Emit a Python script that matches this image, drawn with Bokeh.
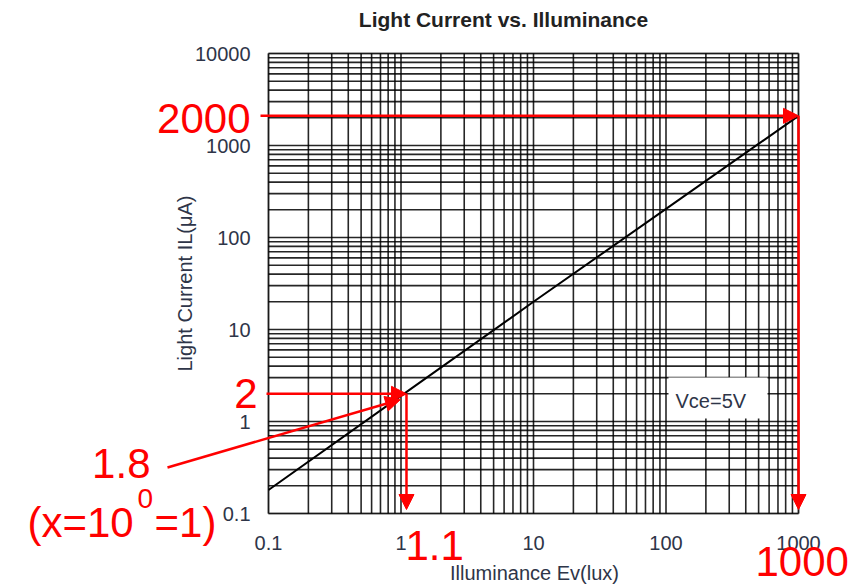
import math
from bokeh.plotting import figure
from bokeh.models import Label, Arrow, NormalHead, BoxAnnotation, Range1d
from bokeh.core.properties import value
from bokeh.embed import file_html
from bokeh.resources import INLINE

# ---- data ----
illuminance = [0.1, 1, 10, 100, 1000]          # Ev (lux)
light_current = [0.18, 1.9, 20, 205, 2100]      # IL (uA)

x_ticks = [0.1, 1, 10, 100, 1000]
x_tick_labels = ["0.1", "1", "10", "100", "1000"]
y_ticks = [0.1, 1, 10, 100, 1000, 10000]
y_tick_labels = ["0.1", "1", "10", "100", "1000", "10000"]

# annotation readings (red marks)
mark_current_high = 2000
mark_lux_high = 1000
mark_current_low = 2
mark_lux_low = 1.1
mark_current_at_1 = 1.8
condition_text = "Vce=5V"

title_text = "Light Current vs. Illuminance"
x_label = "Illuminance Ev(lux)"
y_label = "Light Current IL(μA)"

# ---- layout (pixels) ----
W, H = 856, 586
FL, FR, FT, FB = 268, 798, 53, 513          # chart box inside the canvas
XS = (FR - FL) / (math.log10(x_ticks[-1]) - math.log10(x_ticks[0]))
YS = (FB - FT) / (math.log10(y_ticks[-1]) - math.log10(y_ticks[0]))


def px_x(px):
    return 10 ** (math.log10(x_ticks[0]) + (px - FL) / XS)


def px_y(py):
    return 10 ** (math.log10(y_ticks[0]) + (FB - py) / YS)


FONT = "Liberation Sans"
TICK_COLOR = "#2e3548"
RED = "#ff0000"

x_minor = [m * d for d in x_ticks[:-1] for m in range(2, 10)]
y_minor = [m * d for d in y_ticks[:-1] for m in range(2, 10)]

p = figure(width=W, height=H,
           x_axis_type="log", y_axis_type="log",
           x_range=Range1d(px_x(0), px_x(W)),
           y_range=Range1d(px_y(H), px_y(0)),
           x_axis_location=None, y_axis_location=None,
           output_backend="svg", toolbar_location=None,
           min_border=0)
try:
    p.title = None
except Exception:
    p.title.text = ""
p.min_border_left = p.min_border_right = p.min_border_top = p.min_border_bottom = 0
p.outline_line_color = None
p.background_fill_color = "white"
p.border_fill_color = "white"
p.grid.visible = False

# ---- grid (log grid of the chart box) ----
gx = x_ticks + x_minor
gy = y_ticks + y_minor
p.segment(x0=gx, y0=[y_ticks[0]] * len(gx), x1=gx, y1=[y_ticks[-1]] * len(gx),
          line_color="black", line_width=1.6, line_alpha=0.85)
p.segment(x0=[x_ticks[0]] * len(gy), y0=gy, x1=[x_ticks[-1]] * len(gy), y1=gy,
          line_color="black", line_width=1.6, line_alpha=0.85)

# ---- tick labels ----
p.text(x=x_ticks, y=[px_y(542)] * len(x_ticks), text=x_tick_labels,
       text_font=value(FONT), text_font_size=value("20px"), text_color=TICK_COLOR,
       text_align="center", text_baseline="middle")
p.text(x=[px_x(250)] * len(y_ticks), y=y_ticks, text=y_tick_labels,
       text_font=value(FONT), text_font_size=value("20px"), text_color=TICK_COLOR,
       text_align="right", text_baseline="middle")

# ---- axis labels & title ----
p.add_layout(Label(x=px_x(534), y=px_y(572), text=x_label, text_font=FONT,
                   text_font_size="20px", text_color=TICK_COLOR,
                   text_align="center", text_baseline="middle"))
p.add_layout(Label(x=px_x(184), y=px_y(283), text=y_label, text_font=FONT,
                   text_font_size="20px", text_color=TICK_COLOR, angle=math.pi / 2,
                   text_align="center", text_baseline="middle"))
p.add_layout(Label(x=px_x(503), y=px_y(19), text=title_text, text_font=FONT,
                   text_font_size="21px", text_font_style="bold", text_color="#222222",
                   text_align="center", text_baseline="middle"))

# ---- condition box ----
p.add_layout(BoxAnnotation(left=px_x(668), right=px_x(767), bottom=px_y(418), top=px_y(377),
                           fill_color="white", fill_alpha=1.0,
                           line_color=None, level="glyph"))
p.add_layout(Label(x=px_x(675), y=px_y(400), text=condition_text, text_font=FONT,
                   text_font_size="20px", text_color=TICK_COLOR,
                   text_baseline="middle"))

# ---- chart border ----
p.add_layout(BoxAnnotation(left=x_ticks[0], right=x_ticks[-1],
                           bottom=y_ticks[0], top=y_ticks[-1],
                           fill_alpha=0, line_color="black", line_width=2,
                           level="glyph"))

# ---- curve ----
p.line(illuminance, light_current, line_color="black", line_width=2)


# ---- red annotations ----
def arrow(xs, ys, xe, ye):
    p.add_layout(Arrow(end=NormalHead(size=15, fill_color=RED, line_color=RED),
                       x_start=xs, y_start=ys, x_end=xe, y_end=ye,
                       line_color=RED, line_width=2.5))


top_y = light_current[-1]
arrow(px_x(260), top_y, mark_lux_high, top_y)
arrow(mark_lux_high, top_y, mark_lux_high, px_y(509))
arrow(px_x(266), mark_current_low, mark_lux_low, mark_current_low)
arrow(mark_lux_low, mark_current_low, mark_lux_low, px_y(509))
arrow(px_x(167), px_y(467), px_x(400), px_y(399))


def red_label(px, py, text, align="left", size="42px"):
    p.add_layout(Label(x=px_x(px), y=px_y(py), text=text,
                       text_font=FONT, text_font_size=size,
                       text_color=RED, text_align=align, text_baseline="middle"))


red_label(250, 118, str(mark_current_high), align="right")
red_label(257, 393, str(mark_current_low), align="right")
red_label(150, 463, str(mark_current_at_1), align="right")
red_label(27, 522, "(x=10")
red_label(137, 498, "0", size="28px")
red_label(154, 522, "=1)")
red_label(405, 545, str(mark_lux_low))
red_label(755, 561, str(mark_lux_high))

open("out.html", "w").write(file_html(p, INLINE))
